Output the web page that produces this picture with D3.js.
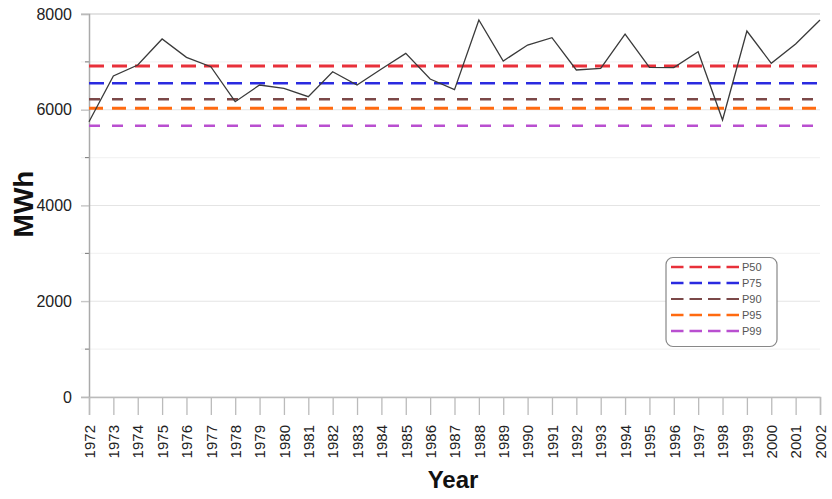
<!DOCTYPE html>
<html><head><meta charset="utf-8">
<script src="https://cdn.jsdelivr.net/npm/d3@7"></script>
<style>body{margin:0;background:#fff}svg{display:block}text{font-family:"Liberation Sans",Arial,sans-serif}</style>
</head><body><svg id="c" width="832" height="499"></svg>
<script>
const years = d3.range(1972, 2003);
const energy = [5750,6705,6935,7478,7095,6900,6168,6517,6448,6273,6795,6517,6850,7178,6642,6420,7875,7018,7352,7505,6830,6865,7582,6886,6880,7213,5786,7645,6970,7373,7875];
const pNames = ["P50","P75","P90","P95","P99"];
const pValues = [6914,6553,6219,6030,5667];
const pColors = ["#e8303a","#2a2ae0","#7b4848","#ff6a10","#b94fd0"];
const pDash = ["15,8","15,8","11,12","14,9","11,12"];
const pWidth = [3,2.6,2.6,3,2.6];
const yMajor = [0,2000,4000,6000,8000];
const yMinor = [1000,3000,5000,7000];

const svg = d3.select("#c");
const x = d3.scaleLinear().domain([1972,2002]).range([89,820]);
const y = d3.scaleLinear().domain([0,8000]).range([397,14]);

// gridlines
svg.append("g").selectAll("line").data(yMajor.concat(yMinor)).join("line")
  .attr("x1",81).attr("x2",820).attr("y1",d=>y(d)).attr("y2",d=>y(d))
  .attr("stroke",d=>d===8000?"#c8c8c8":(d%2000===0?"#e4e4e4":"#f3f3f3")).attr("stroke-width",1.2);
// minor ticks
svg.append("g").selectAll("line").data(yMinor).join("line")
  .attr("x1",85).attr("x2",89).attr("y1",d=>y(d)).attr("y2",d=>y(d))
  .attr("stroke","#777").attr("stroke-width",1);
// y axis
const ya = svg.append("g").attr("transform","translate(89,0)")
  .call(d3.axisLeft(y).tickValues(yMajor).tickSize(8).tickPadding(9).tickFormat(d3.format("d")));
ya.select(".domain").attr("stroke","#aaa").attr("stroke-width",1.5);
ya.selectAll(".tick line").attr("stroke","#bbb");
ya.selectAll("text").attr("font-size",16).attr("fill","#222");
// x axis
const xa = svg.append("g").attr("transform","translate(0,397)")
  .call(d3.axisBottom(x).tickValues(years).tickSize(18).tickFormat(d3.format("d")));
xa.select(".domain").attr("stroke","#bbb").attr("stroke-width",1.5);
xa.selectAll(".tick line").attr("stroke","#bbb").attr("stroke-width",1.3);
xa.selectAll("text").attr("font-size",15).attr("fill","#222")
  .attr("transform","rotate(-90)").attr("text-anchor","end")
  .attr("x",-28).attr("y",0).attr("dy","0.35em");

// percentile lines
svg.append("g").selectAll("line").data(pValues).join("line")
  .attr("x1",x(1972)).attr("x2",x(2002)).attr("y1",d=>y(d)).attr("y2",d=>y(d))
  .attr("stroke",(d,i)=>pColors[i]).attr("stroke-width",(d,i)=>pWidth[i])
  .attr("stroke-dasharray",(d,i)=>pDash[i]);

// data line
svg.append("path").datum(energy)
  .attr("d", d3.line().x((d,i)=>x(years[i])).y(d=>y(d)))
  .attr("fill","none").attr("stroke","#3a3a3a").attr("stroke-width",1.3);

// axis titles
svg.append("text").attr("transform","translate(33,204) rotate(-90)")
  .attr("text-anchor","middle").attr("font-size",28).attr("font-weight","bold").attr("fill","#111").text("MWh");
svg.append("text").attr("x",453).attr("y",488)
  .attr("text-anchor","middle").attr("font-size",24).attr("font-weight","bold").attr("fill","#111").text("Year");

// legend
const lg = svg.append("g");
lg.append("rect").attr("x",666).attr("y",257.5).attr("width",111).attr("height",89)
  .attr("rx",7).attr("fill","#fff").attr("stroke","#888").attr("stroke-width",1.2);
pNames.forEach((n,i)=>{
  const yy = 267 + i*16;
  lg.append("line").attr("x1",671).attr("x2",739).attr("y1",yy).attr("y2",yy)
    .attr("stroke",pColors[i]).attr("stroke-width",i===2?2:2.6).attr("stroke-dasharray","12.5,6");
  lg.append("text").attr("x",742).attr("y",yy).attr("dy","0.36em")
    .attr("font-size",11).attr("fill","#555").text(n);
});
</script></body></html>
